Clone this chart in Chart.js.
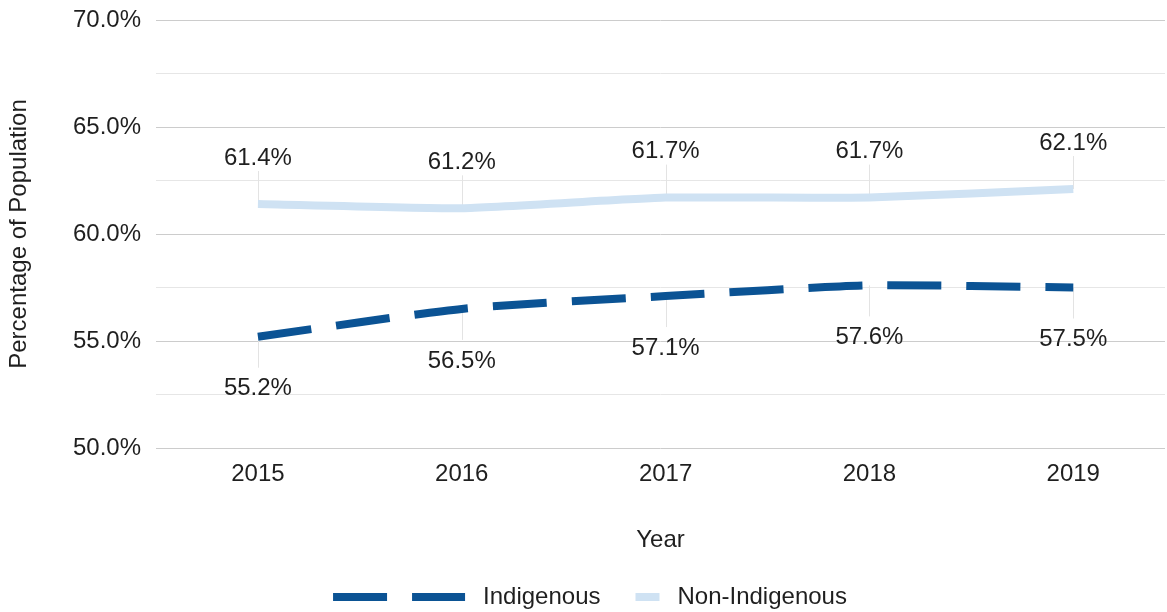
<!DOCTYPE html>
<html>
<head>
<meta charset="utf-8">
<script src="https://cdn.jsdelivr.net/npm/chart.js@4/dist/chart.umd.min.js"></script>
<style>
  html,body{margin:0;padding:0;background:#fff;}
  #wrap{width:1167px;height:612px;position:relative;}
</style>
</head>
<body>
<div id="wrap"><canvas id="chart"></canvas></div>
<script>
// data
const years = [2015, 2016, 2017, 2018, 2019];
const indigenous = [55.2, 56.5, 57.1, 57.6, 57.5];
const nonIndigenous = [61.4, 61.2, 61.7, 61.7, 62.1];
const yMajorTicks = [50, 55, 60, 65, 70];

const FONT = "'Liberation Sans', Arial, sans-serif";
const TXT = "#1f1f1f";
const fmt = v => v.toFixed(1) + "%";

// value labels with thin leader lines (above for Non-Indigenous, below for Indigenous)
const pointLabels = {
  id: "pointLabels",
  beforeDatasetsDraw(chart) {
    const ctx = chart.ctx;
    ctx.save();
    ctx.strokeStyle = "#e3e3e3";
    ctx.lineWidth = 1;
    chart.data.datasets.forEach((ds, di) => {
      chart.getDatasetMeta(di).data.forEach(pt => {
        const x = Math.round(pt.x) + 0.5;
        ctx.beginPath();
        ctx.moveTo(x, pt.y);
        ctx.lineTo(x, ds.labelBelow ? pt.y + 31 : pt.y - 33);
        ctx.stroke();
      });
    });
    ctx.restore();
  },
  afterDatasetsDraw(chart) {
    const ctx = chart.ctx;
    ctx.save();
    ctx.font = "24px " + FONT;
    ctx.fillStyle = TXT;
    ctx.textAlign = "center";
    ctx.textBaseline = "middle";
    chart.data.datasets.forEach((ds, di) => {
      chart.getDatasetMeta(di).data.forEach((pt, i) => {
        const y = ds.labelBelow ? pt.y + 52 : pt.y - 46;
        ctx.fillText(fmt(ds.data[i].y), pt.x, y);
      });
    });
    ctx.restore();
  }
};

// legend drawn by hand so the dashed sample matches
const legendDraw = {
  id: "legendDraw",
  afterDraw(chart) {
    const ctx = chart.ctx;
    ctx.save();
    ctx.font = "24px " + FONT;
    const items = chart.data.datasets.map(ds => ({
      text: ds.label, color: ds.borderColor, dash: ds.borderDash, w: ds.borderDash ? 132 : 24
    }));
    let total = 0;
    items.forEach((it, i) => {
      it.tw = ctx.measureText(it.text).width;
      total += it.w + 18 + it.tw + (i < items.length - 1 ? 35 : 0);
    });
    let x = 590 - total / 2;
    const y = 597;
    items.forEach(it => {
      ctx.strokeStyle = it.color;
      ctx.lineWidth = 8;
      ctx.lineCap = "butt";
      ctx.setLineDash(it.dash || []);
      ctx.beginPath();
      ctx.moveTo(x, y);
      ctx.lineTo(x + it.w, y);
      ctx.stroke();
      ctx.setLineDash([]);
      x += it.w + 18;
      ctx.fillStyle = TXT;
      ctx.textAlign = "left";
      ctx.textBaseline = "middle";
      ctx.fillText(it.text, x, y);
      x += it.tw + 35;
    });
    ctx.restore();
  }
};

new Chart(document.getElementById("chart"), {
  type: "line",
  data: {
    datasets: [
      {
        label: "Indigenous",
        data: indigenous.map((v, i) => ({x: years[i], y: v})),
        borderColor: "#0b5394",
        borderWidth: 8,
        borderDash: [54, 25],
        borderCapStyle: "butt",
        tension: 0.2,
        pointRadius: 0,
        labelBelow: true
      },
      {
        label: "Non-Indigenous",
        data: nonIndigenous.map((v, i) => ({x: years[i], y: v})),
        borderColor: "#cfe2f3",
        borderWidth: 8,
        borderCapStyle: "butt",
        tension: 0.15,
        pointRadius: 0
      }
    ]
  },
  options: {
    responsive: true,
    maintainAspectRatio: false,
    animation: false,
    layout: {padding: {top: 20, right: 2, bottom: 47, left: 0}},
    plugins: {legend: {display: false}, tooltip: {enabled: false}},
    scales: {
      x: {
        type: "linear",
        min: 2014.5,
        max: 2019.45,
        afterBuildTicks: s => { s.ticks = years.map(v => ({value: v})); },
        afterFit: s => { s.height = 117; },
        grid: {display: false, drawTicks: false},
        border: {display: false},
        ticks: {
          padding: 12,
          color: TXT,
          font: {family: FONT, size: 24},
          callback: v => String(v)
        },
        title: {
          display: true,
          text: "Year",
          color: TXT,
          font: {family: FONT, size: 24},
          padding: {top: 0, bottom: 10}
        }
      },
      y: {
        min: 50,
        max: 70,
        afterFit: s => { s.width = 156; },
        grid: {
          drawTicks: true,
          tickLength: 15,
          tickColor: "rgba(0,0,0,0)",
          color: c => yMajorTicks.includes(c.tick.value) ? "#cccccc" : "#e6e6e6",
          lineWidth: 1
        },
        border: {display: false},
        ticks: {
          stepSize: 2.5,
          padding: 0,
          color: TXT,
          font: {family: FONT, size: 24},
          callback: v => yMajorTicks.includes(v) ? fmt(v) : ""
        },
        title: {
          display: true,
          text: "Percentage of Population",
          color: TXT,
          font: {family: FONT, size: 24},
          padding: {top: 5, bottom: 0}
        }
      }
    }
  },
  plugins: [pointLabels, legendDraw]
});
</script>
</body>
</html>
